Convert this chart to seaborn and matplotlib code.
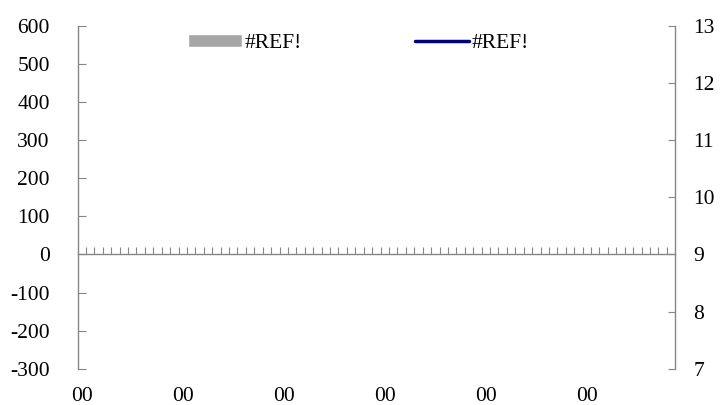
import matplotlib
matplotlib.use("Agg")
import matplotlib.pyplot as plt
import numpy as np
import pandas as pd
import seaborn as sns

# data: every cell is a #REF! error, so both series are empty
n_cat = 71
categories = ["00"] * n_cat
bar_values = [np.nan] * n_cat
line_values = [np.nan] * n_cat
label_every = 12
series_names = ["#REF!", "#REF!"]
left_ticks = [-300, -200, -100, 0, 100, 200, 300, 400, 500, 600]
right_ticks = [7, 8, 9, 10, 11, 12, 13]

C_BAR = "#a6a6a6"
C_LINE = "#000080"
C_AXIS = "#868686"
FS = 15.5

sns.set_style("white")
plt.rcParams["font.family"] = ["Liberation Serif", "DejaVu Serif"]
plt.rcParams.update({
    "font.size": FS,
    "axes.unicode_minus": False,
    "text.color": "black",
    "xtick.color": "black",
    "ytick.color": "black",
    "xtick.bottom": True,
    "ytick.left": True,
    "ytick.right": True,
})

df = pd.DataFrame({"pos": np.arange(n_cat), "cat": categories,
                   "bar": bar_values, "line": line_values})

fig = plt.figure(figsize=(7.21, 4.05), dpi=100)
ax = fig.add_axes([0.1075, 0.089, 0.829, 0.848])
ax2 = ax.twinx()

ax.bar(df["pos"], df["bar"], width=0.6, color=C_BAR, label=series_names[0])
ax2.plot(df["pos"], df["line"], color=C_LINE, lw=2.5, label=series_names[1])

ax.set_xlim(-0.5, n_cat - 0.5)
ax.set_ylim(left_ticks[0], left_ticks[-1])
ax.set_yticks(left_ticks)
ax2.set_ylim(right_ticks[0], right_ticks[-1])
ax2.set_yticks(right_ticks)

# category axis sits on the zero line, ticks between categories
ax.spines["bottom"].set_position(("data", 0))
ax.set_xticks(np.arange(n_cat - 1) + 0.5)
ax.tick_params(axis="x", bottom=True, direction="in", length=5, width=0.8,
               color=C_AXIS, labelbottom=False)
sec = ax.secondary_xaxis("bottom")
lab_pos = df["pos"][::label_every]
sec.set_xticks(lab_pos, df["cat"][::label_every])
sec.tick_params(length=0, pad=13, labelsize=FS, labelcolor="black")
sec.spines["bottom"].set_visible(False)

ax.tick_params(axis="y", left=True, right=False, direction="in", length=6,
               width=0.8, color=C_AXIS, labelsize=FS, labelcolor="black", pad=20)
ax2.tick_params(axis="y", left=False, right=True, direction="in", length=5,
                width=0.8, color=C_AXIS, labelsize=FS, labelcolor="black", pad=13)

for a in (ax, ax2):
    a.spines["top"].set_visible(False)
    for s in ("left", "right", "bottom"):
        a.spines[s].set_color(C_AXIS)
        a.spines[s].set_linewidth(1.0)
ax2.spines["bottom"].set_visible(False)
ax2.spines["left"].set_visible(False)
ax.spines["right"].set_visible(False)

h1, l1 = ax.get_legend_handles_labels()
h2, l2 = ax2.get_legend_handles_labels()
ax.legend(h1 + h2, l1 + l2, ncol=2, frameon=False, loc="center",
          bbox_to_anchor=(0.47, 0.948), handlelength=2.5, handleheight=0.6,
          handletextpad=0.1, columnspacing=5.3, fontsize=FS)

fig.savefig("out.png", dpi=100, facecolor="white")
